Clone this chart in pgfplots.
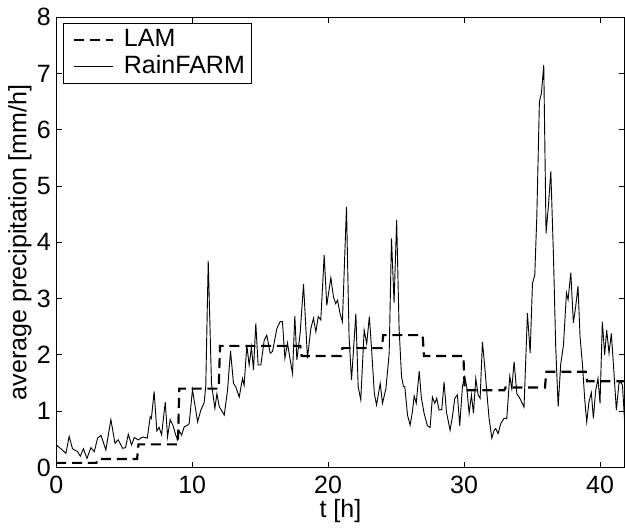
\documentclass[border=0pt]{standalone}
\usepackage{fontspec}
\setmainfont{Liberation Sans}
\usepackage{pgfplots}
\pgfplotsset{compat=1.18}

\pgfplotstableread{
t v
0 0.08
2.95 0.08
3.05 0.15
5.95 0.15
6.05 0.41
8.95 0.41
9.05 1.40
11.95 1.40
12.05 2.16
17.95 2.16
18.05 1.98
20.95 1.98
21.05 2.12
23.95 2.12
24.05 2.35
26.95 2.35
27.05 1.98
29.95 1.98
30.05 1.37
32.95 1.37
33.05 1.42
35.95 1.42
36.05 1.70
38.95 1.70
39.05 1.53
41.8 1.53
}\lam

\begin{document}
\fontsize{15}{18}\selectfont
\begin{tikzpicture}
\begin{axis}[
    width=340.8pt, height=270pt,
    scale only axis,
    xmin=0, xmax=41.8,
    ymin=0, ymax=8,
    xtick={0,10,20,30,40},
    ytick={0,1,2,3,4,5,6,7,8},
    tick align=inside,
    major tick length=3.5pt,
    tick style={black, line width=0.5pt},
    axis line style={line width=0.6pt},
    /pgf/number format/assume math mode=true,
    xticklabel style={yshift=0pt},
    yticklabel style={xshift=2pt},
    xlabel={t [h]},
    ylabel={average precipitation [mm/h]},
    xlabel style={yshift=7pt},
    ylabel style={yshift=-7pt},
    legend style={at={(rel axis cs:0,1)}, anchor=north west,
        xshift=4pt, yshift=-3.6pt, draw=black, line width=0.6pt,
        inner xsep=2pt, inner ysep=1.5pt, row sep=-1pt,
        cells={anchor=west}},
    legend image code/.code={\draw[#1] (4pt,0pt) -- (27pt,0pt); \path (0pt,0pt) (31pt,0pt);},
]
\addplot[black, line width=1.3pt, dash pattern=on 6pt off 3.5pt] table[x=t, y=v] {\lam};
\addlegendentry{LAM}
\addplot[black, line width=0.55pt] coordinates {
(0,0.40) (0.35,0.33) (0.71,0.25) (0.95,0.55) (1.2,0.33) (1.57,0.28) (1.77,0.20) (2.0,0.33) (2.26,0.16) (2.55,0.35) (2.8,0.28) (3.04,0.52) (3.29,0.57) (3.65,0.31) (4.02,0.85) (4.32,0.43) (4.56,0.49) (4.88,0.34) (5.1,0.35) (5.3,0.59) (5.54,0.40) (5.74,0.53) (6.03,0.49) (6.35,0.54) (6.7,0.52) (6.91,0.90) (7.0,0.87) (7.2,1.35) (7.4,0.65) (7.57,0.71) (7.75,0.58) (8.02,1.16) (8.19,0.54) (8.38,0.85) (8.58,0.75) (8.8,0.57) (8.92,0.49) (9.05,0.65) (9.22,0.57) (9.41,0.72) (9.66,0.75) (9.78,0.78) (10.02,1.38) (10.4,0.81) (10.64,1.02) (10.88,1.15) (11.0,1.45) (11.18,3.67) (11.42,1.49) (11.67,1.05) (11.82,1.31) (11.99,1.08) (12.36,0.93) (12.6,1.37) (12.82,2.07) (13.04,1.49) (13.21,1.43) (13.46,1.25) (13.7,1.58) (13.82,1.46) (14.02,2.17) (14.19,1.82) (14.36,2.14) (14.51,1.73) (14.68,2.56) (14.85,1.82) (15.05,1.82) (15.3,2.26) (15.49,2.35) (15.74,2.03) (15.91,2.06) (16.23,2.47) (16.47,2.59) (16.64,2.59) (16.82,1.94) (17.01,2.21) (17.21,1.91) (17.38,1.67) (17.55,2.69) (17.7,1.91) (17.94,2.38) (18.19,3.26) (18.48,1.94) (18.73,2.47) (18.92,2.65) (19.1,2.41) (19.27,2.68) (19.46,2.62) (19.71,3.77) (19.9,2.88) (20.2,3.37) (20.39,3.03) (20.56,2.91) (20.69,2.97) (20.88,2.73) (21.05,2.59) (21.35,4.63) (21.54,2.32) (21.72,1.55) (22.04,2.73) (22.21,1.43) (22.4,1.20) (22.65,2.44) (22.84,2.20) (23.03,2.68) (23.2,2.09) (23.4,1.31) (23.56,1.11) (23.83,1.49) (24.0,1.14) (24.25,1.40) (24.49,2.02) (24.66,4.07) (24.85,2.93) (25.04,4.40) (25.22,2.47) (25.4,1.61) (25.54,1.44) (25.64,1.43) (25.84,0.93) (26.03,0.75) (26.2,0.99) (26.33,1.27) (26.48,1.14) (26.7,1.71) (26.86,1.23) (27.06,0.96) (27.3,0.74) (27.5,0.71) (27.67,1.25) (27.84,1.14) (27.99,1.23) (28.16,1.02) (28.36,1.03) (28.53,1.52) (28.7,0.99) (28.97,0.66) (29.14,0.90) (29.32,1.23) (29.51,1.29) (29.68,0.74) (29.88,1.44) (30.05,1.61) (30.19,1.44) (30.37,0.96) (30.54,1.29) (30.69,0.96) (30.86,1.58) (31.03,1.29) (31.18,1.23) (31.35,2.23) (31.52,1.79) (31.72,1.20) (31.84,0.87) (32.04,0.52) (32.21,0.66) (32.33,0.69) (32.5,0.60) (32.7,0.78) (32.94,0.87) (33.14,0.87) (33.36,1.62) (33.51,1.40) (33.68,1.88) (33.88,1.31) (34.05,1.25) (34.22,1.17) (34.41,1.07) (34.66,2.74) (34.86,2.03) (35.03,3.27) (35.2,3.42) (35.35,4.46) (35.54,6.50) (35.69,6.65) (35.86,7.15) (36.03,4.16) (36.2,4.64) (36.38,5.26) (36.57,3.8) (36.74,2.14) (36.92,1.08) (37.11,1.84) (37.31,2.17) (37.53,3.10) (37.65,2.98) (37.85,3.46) (38.04,2.57) (38.21,2.86) (38.38,3.22) (38.53,2.32) (38.7,1.85) (38.88,1.19) (39.02,0.81) (39.19,1.17) (39.36,1.33) (39.51,0.87) (39.68,1.37) (39.85,1.58) (40.0,1.14) (40.17,2.59) (40.34,2.0) (40.49,2.44) (40.66,2.03) (40.83,2.38) (40.98,1.85) (41.2,1.02) (41.39,1.49) (41.53,1.52) (41.65,1.46) (41.8,0.85)
};
\addlegendentry{RainFARM}
\end{axis}
\end{tikzpicture}
\end{document}
